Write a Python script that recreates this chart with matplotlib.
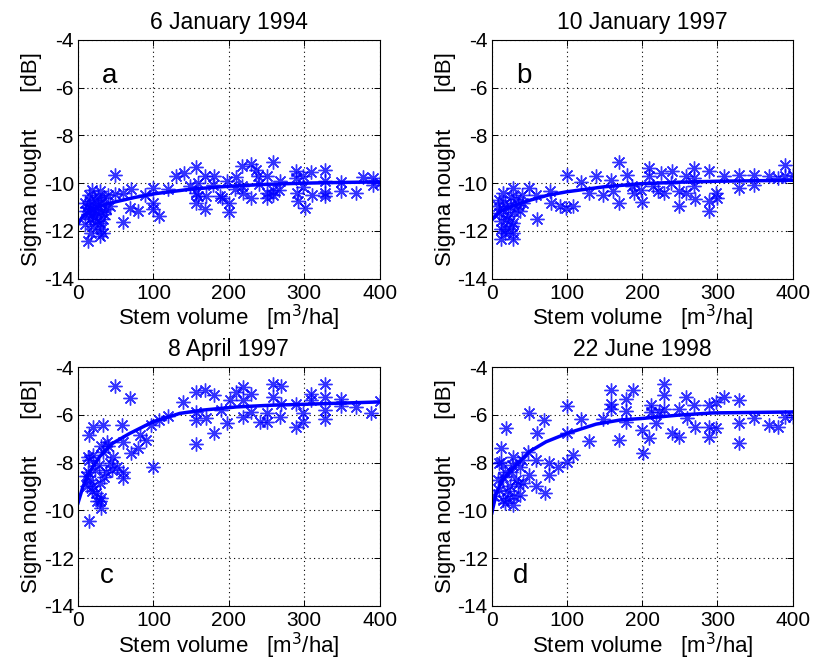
import numpy as np
import matplotlib
matplotlib.use("Agg")
import matplotlib.pyplot as plt

plt.rcParams['font.family'] = ['Liberation Sans', 'DejaVu Sans']
plt.rcParams['axes.unicode_minus'] = False

titles = ["6 January 1994", "10 January 1997", "8 April 1997", "22 June 1998"]
letters = ["a", "b", "c", "d"]

# panel a
a_x = [48.6, 70.7, 59.7, 48.6, 19, 29.6, 15.5, 59.7, 13.3, 28.7, 31, 17.7, 22, 33, 42, 79.6, 68.5,
       88.4, 99.4, 99.4, 99.4, 108, 119, 129.5, 140, 148, 157, 159, 157, 157, 159, 168, 169, 170,
       180, 179, 188, 191, 200, 200, 197.6, 210, 208, 217.5, 218, 219, 230, 229, 236, 239, 240,
       250, 250, 250, 258, 258.5, 258, 268, 267, 289.5, 289.5, 290, 292, 298, 300.5, 298, 309, 310,
       328, 328, 328, 328, 349, 349, 368, 378, 391, 391, 400,
       9, 11, 13, 15.5, 20, 24, 26.5, 31, 35, 37.5, 28.7, 33, 9, 15.5,
       12, 18, 22, 25, 30, 14, 27, 20, 35, 40]
a_y = [-9.67, -10.23, -10.4, -10.45, -10.27, -10.34, -10.75, -11.63, -12.43, -12.2, -11.94, -12.1,
       -11.4, -11.5, -10.96, -11.17, -11.03, -10.48, -10.2, -10.82, -11.1, -11.38, -10.23, -9.71,
       -9.57, -10.1, -9.33, -9.99, -10.4, -10.82, -10.52, -9.71, -11.1, -10.55, -9.71, -10.06,
       -10.55, -10.62, -11.21, -10.82, -9.92, -9.74, -10.24, -10.13, -9.29, -10.4, -9.2, -10.62,
       -9.43, -9.71, -10.02, -9.71, -10.4, -10.62, -9.13, -10.27, -10.48, -9.89, -10.27, -9.5,
       -9.78, -10.4, -10.75, -9.71, -11.03, -10.17, -9.54, -10.5, -9.43, -9.92, -10.4, -10.55,
       -9.95, -10.34, -10.4, -9.74, -9.78, -10.06, -10.0,
       -10.82, -11.17, -11.3, -11.03, -11.1, -11.17, -10.9, -10.82, -10.62, -11.1, -11.66, -12.08,
       -11.73, -11.52,
       -11.0, -11.3, -10.7, -11.6, -11.2, -10.5, -10.6, -11.8, -11.3, -10.5]
a_fx = [0, 5, 10, 20, 30, 50, 75, 100, 150, 200, 250, 300, 350, 400]
a_fy = [-11.7, -11.45, -11.3, -11.1, -10.95, -10.78, -10.6, -10.45, -10.25, -10.13, -10.05, -10.0, -9.97, -9.95]

# panel b
b_x = [99.7, 118.7, 138.6, 158.6, 169.6, 179.8, 169.6, 148.4, 160.8, 129.8, 98.8, 107.6, 90, 77.5,
       78.8, 59, 49, 59.8, 28, 14.6, 12.4, 28, 28, 28, 21, 10, 8, 17, 23.5, 32, 37, 41, 12.4, 19,
       187, 189.6, 200, 198, 209.5, 209.5, 214, 220.6, 225, 229.5, 239.6, 238, 249, 249, 258, 258,
       269, 269, 269, 270.6, 289, 289, 289, 298, 300, 309, 329, 329, 349, 349, 369, 380, 390, 390, 400,
       10, 15, 20, 25, 30, 35, 18, 27, 12, 40]
b_y = [-9.67, -9.96, -9.71, -9.85, -9.13, -9.64, -10.82, -10.48, -10.34, -10.4, -11.03, -10.96,
       -10.96, -10.34, -10.82, -10.48, -10.2, -11.52, -10.2, -10.4, -12.36, -12.36, -12.08, -11.66,
       -11.38, -11.24, -10.96, -10.82, -10.96, -10.68, -11.17, -10.82, -11.94, -11.94,
       -10.13, -10.4, -10.8, -10.27, -9.36, -9.71, -10.13, -10.34, -9.57, -10.4, -9.5, -10.0,
       -10.34, -10.96, -10.41, -9.71, -9.36, -9.78, -10.13, -10.68, -9.5, -10.75, -11.17, -10.4,
       -10.62, -9.71, -9.64, -10.2, -9.67, -10.06, -9.71, -9.78, -9.26, -9.71, -9.67,
       -10.7, -11.1, -11.5, -10.6, -11.2, -10.9, -12.1, -11.8, -11.6, -10.5]
b_fx = [0, 5, 10, 20, 30, 50, 75, 100, 150, 200, 250, 300, 350, 400]
b_fy = [-11.55, -11.35, -11.2, -11.05, -10.93, -10.72, -10.5, -10.36, -10.15, -10.02, -9.96, -9.92, -9.9, -9.88]

# panel c
c_x = [48.6, 69.4, 14.6, 20, 33, 58.8, 14.6, 38.5, 59.7, 13.3, 20, 33, 47, 51, 59.7, 59.7, 37.6,
       13.3, 15.5, 28.7, 24, 31, 28.7, 31, 20, 11, 42, 70.7, 79.6, 90.6, 81.8, 97, 99.4, 108, 119,
       139, 157, 168, 157, 157, 157, 170, 180, 180, 190, 201, 198, 210, 218.8, 218.8, 218.8, 230,
       230, 241, 250, 250, 258.6, 258.6, 269.6, 269.6, 268, 289.5, 289.5, 298, 298, 309, 309, 328,
       328, 328, 328, 349, 349, 369, 389, 400,
       15, 22, 28, 35, 25, 18, 40, 45, 30, 12]
c_y = [-4.79, -5.28, -10.46, -6.5, -6.43, -6.43, -6.85, -7.13, -7.13, -7.75, -7.68, -7.54, -7.75,
       -8.17, -8.38, -8.65, -8.38, -8.38, -8.72, -8.86, -9.28, -9.49, -9.63, -9.9, -9.0, -8.58,
       -8.03, -7.61, -7.4, -7.06, -6.85, -6.43, -8.17, -6.22, -6.06, -5.46, -5.04, -4.97, -5.87,
       -6.22, -7.22, -6.15, -6.78, -5.18, -5.8, -5.39, -6.33, -5.04, -4.82, -5.39, -6.11, -5.11,
       -5.87, -6.29, -5.94, -6.29, -4.69, -5.25, -4.8, -5.53, -6.08, -5.53, -6.53, -5.94, -6.29,
       -5.11, -5.39, -4.69, -5.25, -5.8, -6.19, -5.32, -5.64, -5.67, -5.92, -5.43,
       -7.9, -8.3, -8.1, -8.6, -9.6, -9.2, -7.3, -8.3, -7.3, -9.0]
c_fx = [0, 6.6, 15.5, 28.7, 46, 68.5, 99.4, 135, 166, 210, 254, 298, 400]
c_fy = [-9.69, -9.0, -8.38, -7.75, -7.19, -6.78, -6.29, -5.94, -5.8, -5.67, -5.6, -5.56, -5.46]

# panel d
d_x = [19, 49, 68.7, 59.8, 99.7, 118.7, 129, 99.7, 108.5, 99.7, 87.7, 76.6, 76.6, 70, 59, 50, 47.8,
       59, 12.4, 12.4, 28, 36.8, 17, 32, 23.5, 10, 14.6, 28, 37, 41, 3.5, 8, 147.5, 158.6, 158.6,
       158.6, 169.6, 178.5, 178.5, 178.5, 188, 200.7, 199.8, 209.5, 211.7, 211.7, 222.8, 218,
       229.5, 229.5, 229.5, 239.6, 249.4, 249.4, 258, 259, 269, 270.6, 289, 289, 289, 298.6,
       298.6, 309, 329, 329, 329, 349, 369, 380, 390, 400,
       15, 20, 25, 30, 35, 18, 10, 27, 40, 22]
d_y = [-6.54, -5.94, -6.22, -6.78, -5.64, -6.19, -7.1, -6.78, -7.68, -7.96, -8.17, -8.03, -8.51,
       -9.28, -9.0, -8.51, -7.54, -7.89, -7.4, -7.96, -7.75, -8.17, -8.38, -8.72, -9.0, -9.14,
       -9.56, -9.76, -9.35, -8.86, -9.42, -8.72, -6.19, -4.97, -5.53, -5.74, -7.06, -5.32, -5.82,
       -6.29, -4.94, -7.61, -6.64, -6.99, -5.6, -5.87, -5.87, -6.36, -4.69, -5.18, -5.74, -6.78,
       -6.92, -5.74, -5.25, -6.15, -5.6, -6.5, -5.6, -6.5, -6.92, -6.57, -5.46, -5.25, -5.39,
       -6.36, -7.19, -6.15, -6.43, -6.53, -6.08, -6.08,
       -8.6, -9.2, -8.4, -9.4, -8.9, -9.7, -8.0, -8.1, -7.9, -9.5]
d_fx = [0, 5.8, 14.6, 28, 50, 72, 99.7, 138.6, 170, 200.7, 249, 294, 400]
d_fy = [-10.11, -9.28, -8.72, -8.24, -7.54, -7.13, -6.78, -6.39, -6.22, -6.15, -6.01, -5.92, -5.88]

panels = [(a_x, a_y, a_fx, a_fy), (b_x, b_y, b_fx, b_fy),
          (c_x, c_y, c_fx, c_fy), (d_x, d_y, d_fx, d_fy)]

# axes boxes in figure fractions (left, bottom, width, height)
boxes = [[0.096, 0.581, 0.371, 0.359], [0.605, 0.581, 0.370, 0.359],
         [0.096, 0.089, 0.371, 0.359], [0.605, 0.089, 0.370, 0.359]]
letter_pos = [(42, -5.5), (42, -5.5), (38, -12.75), (38, -12.75)]

fig = plt.figure(figsize=(8.13, 6.65), dpi=100)
asterisk = (8, 2, 0)

for i in range(4):
    x, y, fx, fy = panels[i]
    ax = fig.add_axes(boxes[i])
    ax.plot(x, y, linestyle='none', marker=asterisk, markersize=10, markeredgewidth=1,
            color='#0000ff', alpha=0.8)
    ax.plot(fx, fy, color='#0000ff', linewidth=2.5)
    ax.set_xlim(0, 400)
    ax.set_ylim(-14, -4)
    ax.set_xticks([0, 100, 200, 300, 400])
    ax.set_yticks([-14, -12, -10, -8, -6, -4])
    ax.grid(True, color='black', linestyle=(0, (1, 3)), linewidth=0.8)
    ax.tick_params(direction='in', top=True, right=True, labelsize=15, length=4, width=0.7)
    ax.tick_params(axis='x', pad=4)
    ax.tick_params(axis='y', pad=3)
    for s in ax.spines.values():
        s.set_linewidth(0.8)
    ax.set_title(titles[i], fontsize=16.5, pad=8)
    ax.set_xlabel('Stem volume   [m$^3$/ha]', fontsize=16, labelpad=0)
    ax.set_ylabel('Sigma nought      [dB]', fontsize=16, labelpad=1)
    ax.text(letter_pos[i][0], letter_pos[i][1], letters[i], fontsize=20,
            ha='center', va='center')

fig.savefig('out.png', dpi=100)
